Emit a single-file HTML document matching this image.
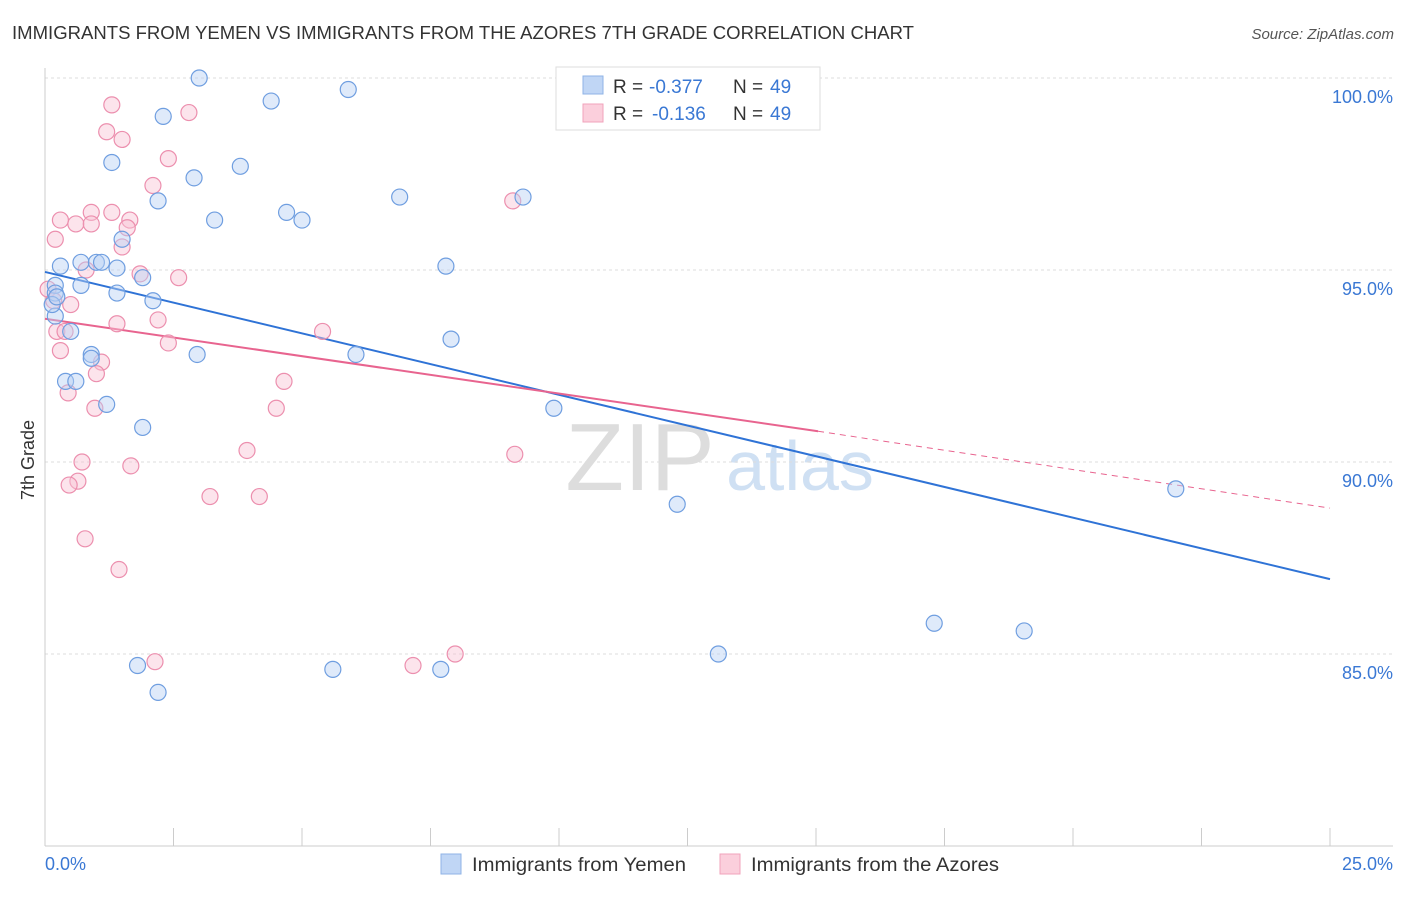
<!DOCTYPE html>
<html><head><meta charset="utf-8">
<style>
body{margin:0;background:#fff;font-family:"Liberation Sans",sans-serif;}
svg text{font-family:"Liberation Sans",sans-serif;}
</style></head>
<body>
<svg id="chart" width="1406" height="892" xmlns="http://www.w3.org/2000/svg">
<text x="12" y="39" font-size="18" fill="#333" textLength="902" lengthAdjust="spacingAndGlyphs">IMMIGRANTS FROM YEMEN VS IMMIGRANTS FROM THE AZORES 7TH GRADE CORRELATION CHART</text>
<text x="1394" y="39" font-size="15" fill="#555" font-style="italic" text-anchor="end">Source: ZipAtlas.com</text>
<text x="34" y="460" font-size="18" fill="#333" transform="rotate(-90 34 460)" text-anchor="middle">7th Grade</text>
<g>
<text x="640" y="490" font-size="96" fill="#ddd" text-anchor="middle" font-family="Liberation Serif">ZIP</text>
<text x="800" y="490" font-size="70" fill="#cfe0f3" text-anchor="middle">atlas</text>
</g>
<g id="grid"></g><g id="axes"></g><g id="lines"></g><g id="pts"></g>
<g>
<rect x="556" y="67" width="264" height="63" fill="#fff" stroke="#ddd"/>
<rect x="583" y="76" width="20" height="18" fill="#c0d6f5" stroke="#8fb3e6"/>
<rect x="583" y="104" width="20" height="18" fill="#fbcfdc" stroke="#f0a3bb"/>
<text x="613" y="93" font-size="19" fill="#333">R =</text>
<text x="649" y="93" font-size="19" fill="#3a78d4">-0.377</text>
<text x="733" y="93" font-size="19" fill="#333">N =</text>
<text x="770" y="93" font-size="19" fill="#3a78d4">49</text>
<text x="613" y="120" font-size="19" fill="#333">R =</text>
<text x="652" y="120" font-size="19" fill="#3a78d4">-0.136</text>
<text x="733" y="120" font-size="19" fill="#333">N =</text>
<text x="770" y="120" font-size="19" fill="#3a78d4">49</text>
</g>
<g>
<rect x="441" y="854" width="20" height="20" fill="#c0d6f5" stroke="#8fb3e6"/>
<text x="472" y="871" font-size="19" fill="#333" textLength="214" lengthAdjust="spacingAndGlyphs">Immigrants from Yemen</text>
<rect x="720" y="854" width="20" height="20" fill="#fbcfdc" stroke="#f0a3bb"/>
<text x="751" y="871" font-size="19" fill="#333" textLength="248" lengthAdjust="spacingAndGlyphs">Immigrants from the Azores</text>
</g>
<text x="45" y="870" font-size="18" fill="#3a78d4">0.0%</text>
<text x="1393" y="870" font-size="18" fill="#3a78d4" text-anchor="end">25.0%</text>
</svg>
<script>
const yTicks=[100,95,90,85];
const yTickLabels=["100.0%","95.0%","90.0%","85.0%"];
const xTicks=[0,2.5,5,7.5,10,12.5,15,17.5,20,22.5,25];
const blueX=[3.0,4.4,5.9,2.3,1.3,3.8,2.9,2.2,3.3,4.7,5.0,6.9,9.3,1.5,0.3,0.7,1.0,1.1,1.4,1.9,0.7,0.2,0.2,1.4,2.1,0.2,0.5,0.9,0.9,2.96,6.05,7.9,7.8,0.4,0.6,1.2,1.9,9.9,12.3,22.0,17.3,19.05,13.1,1.8,5.6,7.7,2.2,0.14,0.23];
const blueY=[100.0,99.4,99.7,99.0,97.8,97.7,97.4,96.8,96.3,96.5,96.3,96.9,96.9,95.8,95.1,95.2,95.2,95.2,95.05,94.8,94.6,94.6,94.4,94.4,94.2,93.8,93.4,92.8,92.7,92.8,92.8,93.2,95.1,92.1,92.1,91.5,90.9,91.4,88.9,89.3,85.8,85.6,85.0,84.7,84.6,84.6,84.0,94.1,94.3];
const pinkX=[1.3,2.8,1.2,1.5,2.4,2.1,0.3,0.6,0.9,0.9,1.3,1.65,1.6,0.2,1.5,0.8,2.6,1.85,0.06,0.5,2.2,1.4,5.4,0.23,2.4,0.3,1.1,1.0,4.65,0.45,0.97,4.5,3.93,0.72,1.67,0.64,0.47,3.21,4.17,9.14,9.1,0.78,1.44,2.14,7.16,7.98,11.05,0.39,0.17];
const pinkY=[99.3,99.1,98.6,98.4,97.9,97.2,96.3,96.2,96.5,96.2,96.5,96.3,96.1,95.8,95.6,95.0,94.8,94.9,94.5,94.1,93.7,93.6,93.4,93.4,93.1,92.9,92.6,92.3,92.1,91.8,91.4,91.4,90.3,90.0,89.9,89.5,89.4,89.1,89.1,90.2,96.8,88.0,87.2,84.8,84.7,85.0,100.0,93.4,94.2];
const blueTrend=[[0,94.95],[25,86.95]];
const pinkTrend=[[0,93.73],[15.04,90.8],[25,88.8]];
const X0=45,X1=1330,Y100=78,PX_PER=38.4;
const sx=v=>X0+(v/25)*(X1-X0);
const sy=v=>Y100+(100-v)*PX_PER;
const NS="http://www.w3.org/2000/svg";
function mk(tag,attrs,parent){const e=document.createElementNS(NS,tag);for(const k in attrs)e.setAttribute(k,attrs[k]);document.getElementById(parent).appendChild(e);return e;}
yTicks.forEach((t,i)=>{
 const l=mk('line',{x1:X0,x2:1393,y1:sy(t),y2:sy(t),stroke:'#ddd','stroke-dasharray':'3,3'},'grid');
 
 
 const tx=mk('text',{x:1393,y:sy(t)+25,'font-size':18,fill:'#3a78d4','text-anchor':'end'},'grid');
 tx.textContent=yTickLabels[i];
 
 
});
const ax=mk('line',{x1:X0,x2:X0,y1:68,y2:846,stroke:'#ccc'},'axes');


const bx=mk('line',{x1:X0,x2:1393,y1:846,y2:846,stroke:'#ccc'},'axes');


xTicks.forEach(t=>{
 const l=mk('line',{x1:sx(t),x2:sx(t),y1:828,y2:846,stroke:'#ccc'},'axes');
 
 
});
function pt(xs,ys,fill,stroke,name){xs.forEach((x,i)=>{
 const c=mk('circle',{cx:sx(x),cy:sy(ys[i]),r:8,fill:fill,'fill-opacity':0.45,stroke:stroke,'stroke-width':1.2},'pts');
 
 
});}
pt(pinkX,pinkY,'#f9c3d4','#ec8fae','azores-point');
pt(blueX,blueY,'#b9d1f3','#6f9ee0','yemen-point');
const bl=mk('line',{x1:sx(blueTrend[0][0]),y1:sy(blueTrend[0][1]),x2:sx(blueTrend[1][0]),y2:sy(blueTrend[1][1]),stroke:'#2f73d6','stroke-width':2},'lines');


const pl=mk('line',{x1:sx(pinkTrend[0][0]),y1:sy(pinkTrend[0][1]),x2:sx(pinkTrend[1][0]),y2:sy(pinkTrend[1][1]),stroke:'#e8648f','stroke-width':2},'lines');


const pd=mk('line',{x1:sx(pinkTrend[1][0]),y1:sy(pinkTrend[1][1]),x2:sx(pinkTrend[2][0]),y2:sy(pinkTrend[2][1]),stroke:'#e8648f','stroke-width':1,'stroke-dasharray':'6,5'},'lines');


</script>
</body></html>
